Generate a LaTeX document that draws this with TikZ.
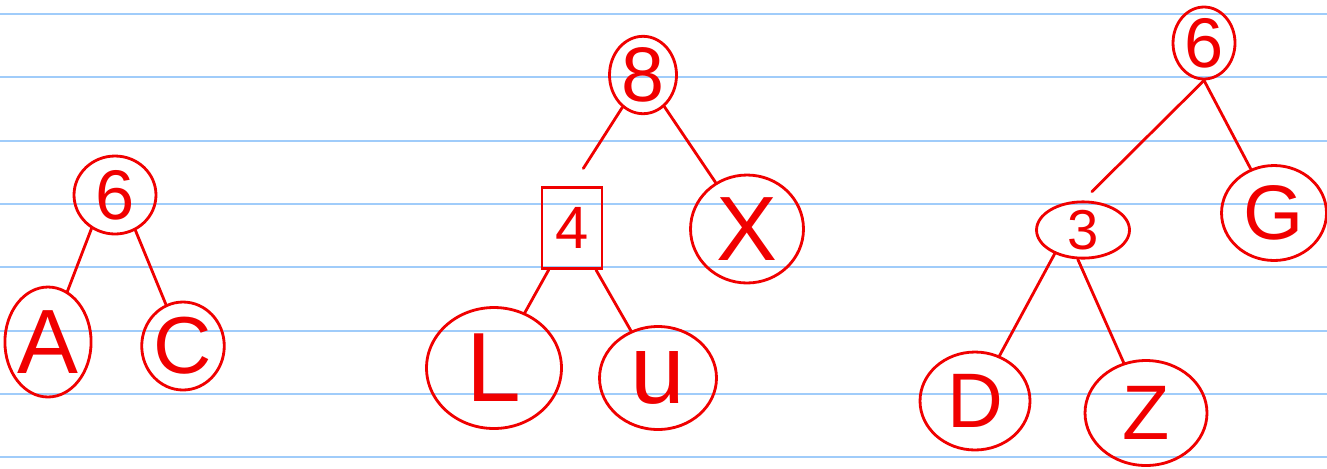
\documentclass[tikz,border=0pt]{standalone}
\usepackage{fontspec}
\setmainfont{Liberation Sans}
\usepackage{xcolor}
\usetikzlibrary{shapes.geometric}

\definecolor{inkred}{RGB}{240,0,0}
\definecolor{ruleblue}{RGB}{160,204,250}

\begin{document}
\begin{tikzpicture}[
    x=0.02cm, y=-0.02cm,
    vertex/.style={draw=inkred, line width=1.6pt, ellipse, inner sep=0pt,
                   text=inkred, font=\fontsize{#1}{#1}\selectfont},
    vertex/.default=40,
    boxvertex/.style={draw=inkred, line width=1.6pt, rectangle, inner sep=0pt,
                      text=inkred, font=\fontsize{34}{34}\selectfont},
    edge/.style={draw=inkred, line width=1.6pt, line cap=round},
]
  \useasboundingbox (0,0) rectangle (1327,468);
  \fill[white] (0,0) rectangle (1327,468);
  % ruled paper
  \foreach \ly in {14,77,141,204,267,331,394,457}
    \draw[ruleblue, line width=1.2pt] (0,\ly) -- (1327,\ly);

  % left tree
  \node[vertex=40, minimum width=1.64cm, minimum height=1.56cm] (t1root) at (115,195) {6};
  \node[vertex=52, minimum width=1.62cm, minimum height=2.2cm] (t1a) at (48,342) {A};
  \node[vertex=46, minimum width=1.46cm, minimum height=1.76cm] (t1c) at (183,346) {C};
  \draw[edge] (t1root.235) -- (t1a);
  \draw[edge] (t1root.300) -- (t1c);

  % middle tree
  \node[vertex=44, minimum width=1.34cm, minimum height=1.4cm] (t2root) at (643,75) {8};
  \node[boxvertex, minimum width=1.2cm, minimum height=1.62cm] (t2four) at (572,228) {4};
  \node[vertex=52, minimum width=2.26cm, minimum height=2.16cm] (t2x) at (747,229) {X};
  \node[vertex=56, minimum width=2.7cm, minimum height=2.42cm] (t2l) at (494,368) {L};
  \node[vertex=56, minimum width=2.34cm, minimum height=2.06cm] (t2u) at (658,378) {u};
  \draw[edge, shorten >=0.42cm] (t2root) -- (t2four.north);
  \draw[edge] (t2root) -- (t2x);
  \draw[edge] (t2four) -- (t2l);
  \draw[edge] (t2four) -- (t2u);

  % right tree
  \node[vertex=40, minimum width=1.24cm, minimum height=1.44cm] (t3root) at (1204,43) {6};
  \node[vertex=32, minimum width=1.86cm, minimum height=1.1cm] (t3three) at (1083,230) {3};
  \node[vertex=44, minimum width=2.1cm, minimum height=1.9cm] (t3g) at (1274,213) {G};
  \node[vertex=44, minimum width=2.2cm, minimum height=1.96cm] (t3d) at (975,401) {D};
  \node[vertex=44, minimum width=2.44cm, minimum height=2.1cm] (t3z) at (1146,413) {Z};
  \draw[edge, shorten >=0.25cm] (t3root.south) -- (t3three.north);
  \draw[edge] (t3root.south) -- (t3g);
  \draw[edge] (t3three.220) -- (t3d);
  \draw[edge] (t3three.260) -- (t3z);
\end{tikzpicture}
\end{document}
